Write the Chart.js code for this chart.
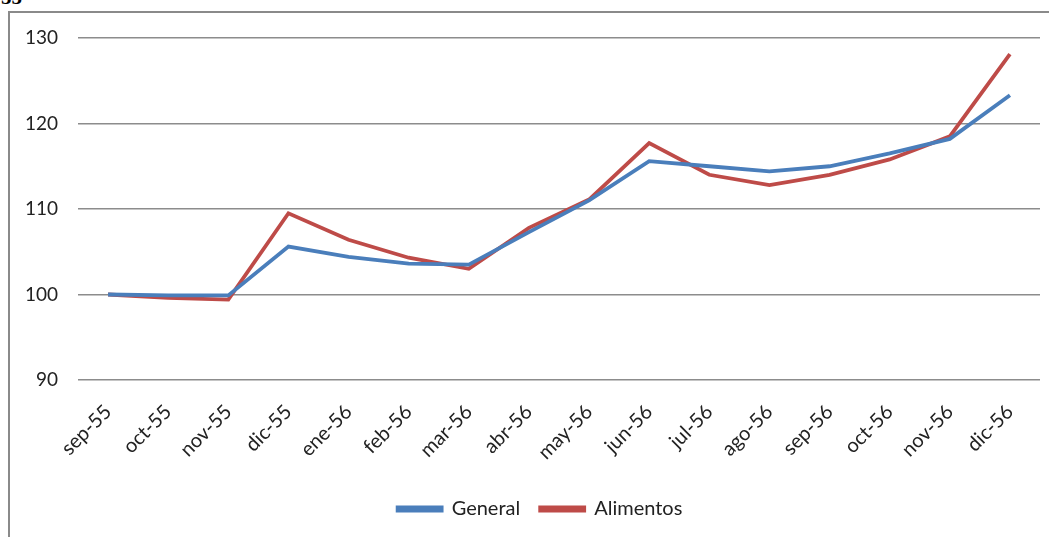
<!DOCTYPE html>
<html>
<head>
<meta charset="utf-8">
<script src="https://cdn.jsdelivr.net/npm/chart.js@4/dist/chart.umd.min.js"></script>
<style>
  html, body { margin: 0; padding: 0; background: #fff; width: 1049px; height: 537px; overflow: hidden; }
  #frame { position: absolute; left: 8px; top: 11px; width: 1060px; height: 560px; border: 2px solid #8a8a8a; box-sizing: border-box; }
  #wrap { position: absolute; left: 0; top: 0; width: 1049px; height: 537px; }
  #cut { position: absolute; left: 1px; top: -15px; font: bold 21px "Liberation Serif", serif; color: #000; }
</style>
</head>
<body>
<div id="cut">55</div>
<div id="frame"></div>
<div id="wrap"><canvas id="c" width="1049" height="537"></canvas></div>
<script>
// Índices de precios, base sep-55 = 100
const categories = ['sep-55','oct-55','nov-55','dic-55','ene-56','feb-56','mar-56','abr-56',
                    'may-56','jun-56','jul-56','ago-56','sep-56','oct-56','nov-56','dic-56'];
const general   = [100.0, 99.9, 99.9, 105.6, 104.4, 103.6, 103.5, 107.3,
                   111.0, 115.6, 115.0, 114.4, 115.0, 116.5, 118.2, 123.3];
const alimentos = [100.0, 99.6, 99.4, 109.5, 106.4, 104.3, 103.0, 107.8,
                   111.1, 117.7, 114.0, 112.8, 114.0, 115.8, 118.5, 128.1];
const yTicks = [90, 100, 110, 120, 130];

const FONT = 'Lato, "Open Sans", sans-serif';
const LEGEND_CENTER_X = 540;

// Desplaza la leyenda para centrarla en LEGEND_CENTER_X
const centerLegend = {
  id: 'centerLegend',
  afterLayout(chart) {
    const lg = chart.legend;
    const shift = LEGEND_CENTER_X - (lg.left + lg.right) / 2;
    lg.left += shift; lg.right += shift;
  }
};

new Chart(document.getElementById('c'), {
  type: 'line',
  data: {
    labels: categories,
    datasets: [
      { label: 'General', data: general, borderColor: '#4a7ebb', backgroundColor: '#4a7ebb',
        borderWidth: 3.8, pointRadius: 0, tension: 0 },
      { label: 'Alimentos', data: alimentos, borderColor: '#be4b48', backgroundColor: '#be4b48',
        borderWidth: 3.8, pointRadius: 0, tension: 0 }
    ]
  },
  plugins: [centerLegend],
  options: {
    responsive: false,
    animation: false,
    layout: { padding: { left: 0, right: 9, top: 38, bottom: 8 } },
    plugins: {
      tooltip: { enabled: false },
      legend: {
        position: 'bottom',
        labels: {
          color: '#222', font: { family: FONT, size: 20 },
          boxWidth: 44, boxHeight: 3, padding: 20
        }
      }
    },
    scales: {
      x: {
        offset: true,
        grid: { display: false },
        border: { display: false },
        ticks: { color: '#222', font: { family: FONT, size: 20 }, minRotation: 45, maxRotation: 45, padding: 12 },
        afterFit: s => { s.height = 99; }
      },
      y: {
        min: 90, max: 130,
        afterBuildTicks: s => { s.ticks = yTicks.map(v => ({ value: v })); },
        grid: { color: '#8c8c8c', lineWidth: 1.5, drawTicks: false },
        border: { display: false },
        ticks: { color: '#222', font: { family: FONT, size: 19 }, padding: 20 },
        afterFit: s => { s.width = 78; }
      }
    }
  }
});
</script>
</body>
</html>
